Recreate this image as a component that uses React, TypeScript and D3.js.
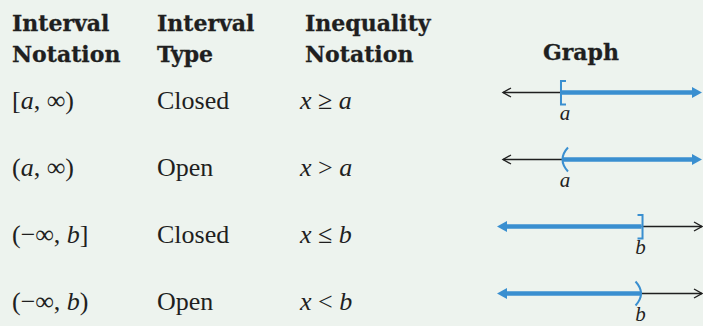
import React from "react";
import * as d3 from "d3";

const W = 703;
const H = 326;

// ---- data ----
const headerLine1 = ["Interval", "Interval", "Inequality"];
const headerLine2 = ["Notation", "Type", "Notation"];
const graphHeader = "Graph";

type Seg = { t: string; i?: boolean };
const intervalNotations: Seg[][] = [
  [{ t: "[" }, { t: "a", i: true }, { t: ", ∞)" }],
  [{ t: "(" }, { t: "a", i: true }, { t: ", ∞)" }],
  [{ t: "(−∞, " }, { t: "b", i: true }, { t: "]" }],
  [{ t: "(−∞, " }, { t: "b", i: true }, { t: ")" }],
];
const intervalTypes = ["Closed", "Open", "Closed", "Open"];
const inequalities: Seg[][] = [
  [{ t: "x", i: true }, { t: " ≥ " }, { t: "a", i: true }],
  [{ t: "x", i: true }, { t: " > " }, { t: "a", i: true }],
  [{ t: "x", i: true }, { t: " ≤ " }, { t: "b", i: true }],
  [{ t: "x", i: true }, { t: " < " }, { t: "b", i: true }],
];
const endpointLabels = ["a", "a", "b", "b"];
const endpointValues = [0.317, 0.317, 0.705, 0.705];
const shadeDirections = ["right", "right", "left", "left"];
const closedEnds = [true, false, true, false];

// ---- style ----
const BG = "#edf3ee";
const INK = "#1f1f1f";
const BLUE = "#3a8fd0";
const HEAD_FONT = "'DejaVu Serif', serif";
const BODY_FONT = "'Liberation Serif', 'Times New Roman', serif";

export default function App() {
  const rows = d3.range(intervalTypes.length);
  const x = d3.scaleLinear().domain([0, 1]).range([497, 702]);
  const y = d3.scalePoint<number>().domain(rows).range([92.5, 293.5]);
  const colX = [12, 157, 300];
  const headX = [12, 157, 305];

  const renderSegs = (segs: Seg[]) =>
    segs.map((s, k) => (
      <tspan key={k} fontStyle={s.i ? "italic" : "normal"}>
        {s.t}
      </tspan>
    ));

  return (
    <svg
      width={W}
      height={H}
      style={{ position: "absolute", left: 0, top: 0, background: BG }}
    >
      <rect width={W} height={H} fill={BG} />
      {/* headers */}
      <g
        fontFamily={HEAD_FONT}
        fontWeight="bold"
        fontSize={22}
        fill={INK}
        stroke={INK}
        strokeWidth={0.3}
      >
        {headerLine1.map((h, i) => (
          <text key={"h1" + i} x={headX[i]} y={31}>
            {h}
          </text>
        ))}
        {headerLine2.map((h, i) => (
          <text key={"h2" + i} x={headX[i]} y={62}>
            {h}
          </text>
        ))}
        <text x={581} y={60} textAnchor="middle">
          {graphHeader}
        </text>
      </g>
      {/* body rows */}
      <g fontFamily={BODY_FONT} fontSize={26} fill={INK}>
        {rows.map((r) => {
          const yy = y(r)!;
          return (
            <g key={r}>
              <text x={colX[0]} y={yy + 16.5} style={{ whiteSpace: "pre" }}>
                {renderSegs(intervalNotations[r])}
              </text>
              <text x={colX[1]} y={yy + 16.5}>
                {intervalTypes[r]}
              </text>
              <text x={colX[2]} y={yy + 16.5} style={{ whiteSpace: "pre" }}>
                {renderSegs(inequalities[r])}
              </text>
            </g>
          );
        })}
      </g>
      {/* graphs */}
      {rows.map((r) => {
        const yy = y(r)!;
        const ex = x(endpointValues[r]);
        const right = shadeDirections[r] === "right";
        const closed = closedEnds[r];
        const x0 = x(0);
        const x1 = x(1);
        const blackTip = right ? x0 + 6 : x1;
        const blueTip = right ? x1 : x0;
        const dir = right ? 1 : -1; // direction of shading
        const blueEnd = blueTip - dir * 8;
        const bd = -dir; // black arrow points opposite
        const chevron = `M${blackTip - bd * 8},${yy - 4.5} L${blackTip},${yy} L${blackTip - bd * 8},${yy + 4.5}`;
        const tri = `M${blueTip},${yy} L${blueTip - dir * 10},${yy - 5.5} L${blueTip - dir * 10},${yy + 5.5} Z`;
        let mark: string;
        if (closed) {
          const s = dir * 5;
          const bx = ex - dir * 1;
          mark = `M${bx + s},${yy - 11.5} L${bx},${yy - 11.5} L${bx},${yy + 12} L${bx + s},${yy + 12}`;
        } else {
          mark = `M${ex + dir * 6},${yy - 12} Q${ex - dir * 5},${yy} ${ex + dir * 6},${yy + 12}`;
        }
        return (
          <g key={"g" + r}>
            <line
              x1={ex}
              x2={blackTip}
              y1={yy}
              y2={yy}
              stroke={INK}
              strokeWidth={1.4}
            />
            <path d={chevron} fill="none" stroke={INK} strokeWidth={1.4} />
            <line
              x1={ex}
              x2={blueEnd}
              y1={yy}
              y2={yy}
              stroke={BLUE}
              strokeWidth={4.5}
            />
            <path d={tri} fill={BLUE} />
            <path d={mark} fill="none" stroke={BLUE} strokeWidth={2} />
            <text
              x={ex + (right ? 3 : -1)}
              y={yy + 27}
              textAnchor="middle"
              fontFamily={BODY_FONT}
              fontStyle="italic"
              fontSize={21}
              fill={INK}
            >
              {endpointLabels[r]}
            </text>
          </g>
        );
      })}
    </svg>
  );
}
